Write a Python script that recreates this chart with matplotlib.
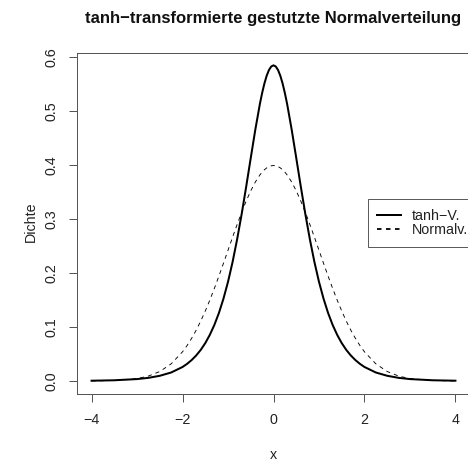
import matplotlib
matplotlib.use("Agg")
import matplotlib.pyplot as plt
from matplotlib.lines import Line2D

plt.rcParams['font.family'] = ['Liberation Sans', 'DejaVu Sans']

x_vals = [-4.0, -3.5, -3.0, -2.75, -2.5, -2.25, -2.0, -1.9, -1.8, -1.7, -1.6,
          -1.5, -1.4, -1.3, -1.2, -1.1, -1.0, -0.9, -0.8, -0.7, -0.6, -0.5,
          -0.4, -0.3, -0.25, -0.2, -0.15, -0.1, -0.05, 0.0, 0.05, 0.1, 0.15,
          0.2, 0.25, 0.3, 0.4, 0.5, 0.6, 0.7, 0.8, 0.9, 1.0, 1.1, 1.2, 1.3,
          1.4, 1.5, 1.6, 1.7, 1.8, 1.9, 2.0, 2.25, 2.5, 2.75, 3.0, 3.5, 4.0]

tanh_dens = [0.0005, 0.0013, 0.0035, 0.0058, 0.0096, 0.0157, 0.0259, 0.0317,
             0.0387, 0.0472, 0.0575, 0.0701, 0.0854, 0.1038, 0.1259, 0.1524,
             0.1836, 0.2201, 0.2621, 0.3090, 0.3600, 0.4130, 0.4652, 0.5126,
             0.5331, 0.5508, 0.5651, 0.5757, 0.5822, 0.5844, 0.5822, 0.5757,
             0.5651, 0.5508, 0.5331, 0.5126, 0.4652, 0.4130, 0.3600, 0.3090,
             0.2621, 0.2201, 0.1836, 0.1524, 0.1259, 0.1038, 0.0854, 0.0701,
             0.0575, 0.0472, 0.0387, 0.0317, 0.0259, 0.0157, 0.0096, 0.0058,
             0.0035, 0.0013, 0.0005]

norm_dens = [0.0001, 0.0009, 0.0044, 0.0091, 0.0175, 0.0317, 0.0540, 0.0656,
             0.0790, 0.0940, 0.1109, 0.1295, 0.1497, 0.1714, 0.1942, 0.2179,
             0.2420, 0.2661, 0.2897, 0.3123, 0.3332, 0.3521, 0.3683, 0.3814,
             0.3867, 0.3910, 0.3945, 0.3970, 0.3984, 0.3989, 0.3984, 0.3970,
             0.3945, 0.3910, 0.3867, 0.3814, 0.3683, 0.3521, 0.3332, 0.3123,
             0.2897, 0.2661, 0.2420, 0.2179, 0.1942, 0.1714, 0.1497, 0.1295,
             0.1109, 0.0940, 0.0790, 0.0656, 0.0540, 0.0317, 0.0175, 0.0091,
             0.0044, 0.0009, 0.0001]

x_ticks = [-4, -2, 0, 2, 4]
y_ticks = [0.0, 0.1, 0.2, 0.3, 0.4, 0.5, 0.6]
legend_labels = ['tanh\u2212V.', 'Normalv.']

W, H = 468, 461
fs = 14.2
fig = plt.figure(figsize=(W / 72, H / 72), dpi=72)
ax = fig.add_axes([77 / W, 67.4 / H, 393 / W, 340.9 / H])

ax.plot(x_vals, tanh_dens, color='black', lw=2)
ax.plot(x_vals, norm_dens, color='black', lw=0.9, dashes=(4.5, 4.5))

# R-typische Achsenbereiche (4 % Rand)
xr = max(x_vals) - min(x_vals)
yr = max(tanh_dens)
ax.set_xlim(min(x_vals) - 0.04 * xr, max(x_vals) + 0.04 * xr)
ax.set_ylim(-0.04 * yr, yr * 1.04)

ax.set_xticks(x_ticks)
ax.set_xticklabels([str(t).replace('-', '\u2212') for t in x_ticks])
ax.set_yticks(y_ticks)
ax.set_yticklabels(['%.1f' % t for t in y_ticks], rotation=90, va='center')
ax.tick_params(direction='out', length=8, width=1, color='#555555',
               labelsize=fs, labelcolor='#222222')
ax.tick_params(axis='x', pad=11)
ax.tick_params(axis='y', pad=11)
for s in ax.spines.values():
    s.set_color('#555555')
    s.set_linewidth(1)

fig.text(273.5 / W, 1 - 18 / H, 'tanh\u2212transformierte gestutzte Normalverteilung',
         ha='center', va='center', fontsize=16.6, fontweight='bold', color='#111111')
fig.text(273.5 / W, 1 - 455 / H, 'x', ha='center', va='center',
         fontsize=fs, color='#222222')
fig.text(31 / W, 1 - 222 / H, 'Dichte', ha='center', va='center',
         rotation=90, fontsize=fs, color='#222222')

handles = [Line2D([], [], color='black', lw=2),
           Line2D([], [], color='black', lw=1.8, dashes=(2.5, 2.5))]
leg = ax.legend(handles, legend_labels, loc='center right',
                bbox_to_anchor=(1.0 + 8 / 393, 0.5), borderaxespad=0,
                fontsize=fs, frameon=True, fancybox=False, handlelength=1.69,
                handletextpad=0.77, borderpad=0.68, labelspacing=0.0,
                labelcolor='#222222')
leg.get_frame().set_edgecolor('black')
leg.get_frame().set_linewidth(0.8)

fig.savefig('out.png', dpi=72)
